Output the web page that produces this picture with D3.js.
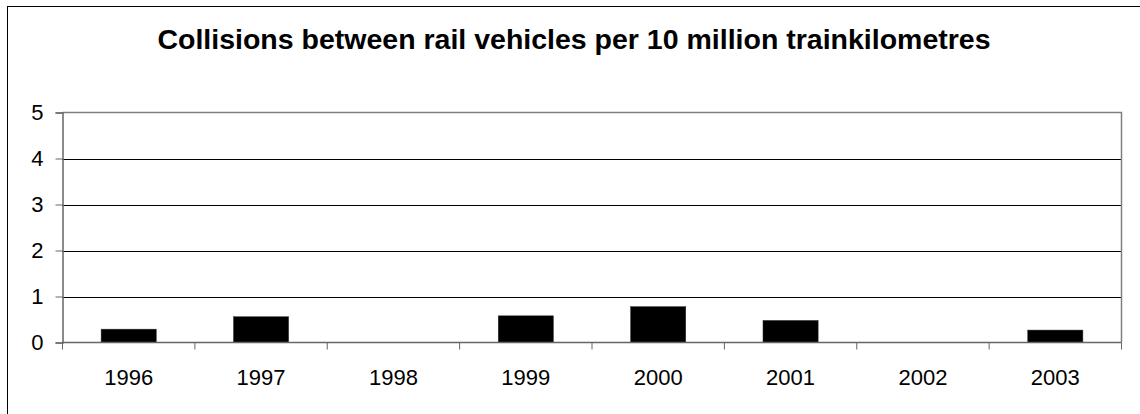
<!DOCTYPE html>
<html>
<head>
<meta charset="utf-8">
<script src="https://cdn.jsdelivr.net/npm/d3@7/dist/d3.min.js"></script>
<style>
  html, body { margin: 0; padding: 0; background: #fff; }
  svg { display: block; }
  text { font-family: Arial, "Liberation Sans", sans-serif; fill: #000; }
</style>
</head>
<body>
<svg id="chart" width="1140" height="414"></svg>
<script>
const title = "Collisions between rail vehicles per 10 million trainkilometres";
const categories = ["1996", "1997", "1998", "1999", "2000", "2001", "2002", "2003"];
const values = [0.29, 0.56, 0, 0.58, 0.78, 0.48, 0, 0.27];
const yTicks = [0, 1, 2, 3, 4, 5];

const svg = d3.select("#chart");
const W = 1140, H = 414;
const plot = { left: 62.5, right: 1121.5, top: 112.5, bottom: 342.5 };

// outer chart border
svg.append("rect")
  .attr("x", 7.5).attr("y", 6.5)
  .attr("width", W + 10).attr("height", H + 10)
  .attr("fill", "#fff").attr("stroke", "#000").attr("stroke-width", 1);

const x = d3.scaleBand().domain(categories).range([plot.left, plot.right]).padding(0);
const y = d3.scaleLinear().domain([0, 5]).range([plot.bottom, plot.top]);

// gridlines
svg.append("g").selectAll("line")
  .data(yTicks.filter(t => t > 0 && t < 5))
  .join("line")
  .attr("x1", plot.left).attr("x2", plot.right)
  .attr("y1", d => Math.round(y(d)) + 0.5).attr("y2", d => Math.round(y(d)) + 0.5)
  .attr("stroke", "#000").attr("stroke-width", 1);

// plot area border top/right (gray)
svg.append("path")
  .attr("d", `M${plot.left},${plot.top}H${plot.right}V${plot.bottom}`)
  .attr("fill", "none").attr("stroke", "#808080").attr("stroke-width", 1.5);

// bars
const barFrac = 1 / 2.4;
svg.append("g").selectAll("rect")
  .data(categories.map((c, i) => ({ c, v: values[i] })).filter(d => d.v > 0))
  .join("rect")
  .attr("x", d => x(d.c) + x.bandwidth() * (1 - barFrac) / 2)
  .attr("width", x.bandwidth() * barFrac)
  .attr("y", d => y(d.v))
  .attr("height", d => y(0) - y(d.v))
  .attr("fill", "#000")
  .attr("stroke", "#333").attr("stroke-width", 0.5);

// y axis
const yAxis = d3.axisLeft(y).tickValues(yTicks).tickSize(7).tickPadding(12).tickFormat(d3.format("d"));
const gy = svg.append("g").attr("transform", `translate(${plot.left},0)`).call(yAxis);
gy.select(".domain").attr("stroke", "#666").attr("stroke-width", 1.5);
gy.selectAll(".tick line").attr("stroke", "#666");
gy.selectAll(".tick text").attr("font-size", 22).attr("font-family", "Arial, 'Liberation Sans', sans-serif");

// x axis: ticks at category boundaries
const gx = svg.append("g").attr("transform", `translate(0,${plot.bottom})`);
gx.append("line").attr("x1", plot.left).attr("x2", plot.right).attr("y1", 0).attr("y2", 0)
  .attr("stroke", "#666").attr("stroke-width", 1.5);
const bounds = categories.map(c => x(c)).concat([plot.right]);
gx.selectAll("line.tk").data(bounds).join("line").attr("class", "tk")
  .attr("x1", d => d).attr("x2", d => d).attr("y1", 0).attr("y2", 7)
  .attr("stroke", "#666").attr("stroke-width", 1);
gx.selectAll("text").data(categories).join("text")
  .attr("x", d => x(d) + x.bandwidth() / 2)
  .attr("y", 42)
  .attr("text-anchor", "middle")
  .attr("font-size", 22)
  .text(d => d);

// title
svg.append("text")
  .attr("x", 574).attr("y", 49)
  .attr("text-anchor", "middle")
  .attr("font-size", 28.5).attr("font-weight", "bold")
  .text(title);
</script>
</body>
</html>
